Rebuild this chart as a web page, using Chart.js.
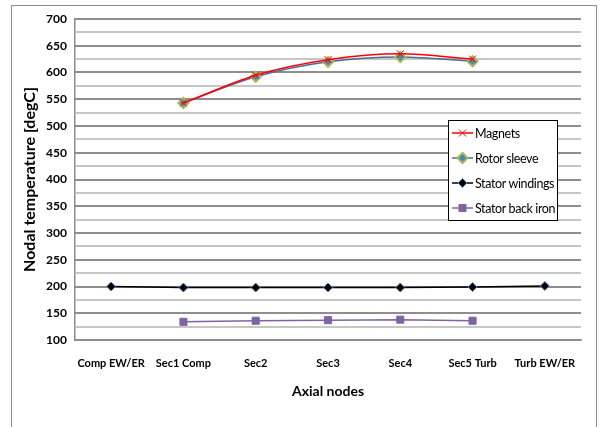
<!DOCTYPE html>
<html>
<head>
<meta charset="utf-8">
<script src="https://cdn.jsdelivr.net/npm/chart.js@4/dist/chart.umd.min.js"></script>
<style>
  html, body { margin: 0; padding: 0; background: #fff; }
  #wrap { position: relative; width: 601px; height: 427px; overflow: hidden; }
  #frame { position: absolute; left: 11px; top: 5px; width: 586px; height: 440px; border: 1px solid #8c8c8c; box-sizing: border-box; }
  #temps { position: absolute; left: 0; top: 0; }
</style>
</head>
<body>
<div id="wrap">
  <div id="frame"></div>
  <canvas id="temps" width="601" height="427"></canvas>
</div>
<script>
"use strict";

const axialNodes = ['Comp EW/ER', 'Sec1 Comp', 'Sec2', 'Sec3', 'Sec4', 'Sec5 Turb', 'Turb EW/ER'];
const magnets = [null, 543, 595, 624, 635, 625, null];
const rotorSleeve = [null, 543, 592, 620, 629, 621, null];
const statorWindings = [200, 198, 198, 198, 198, 199, 201];
const statorBackIron = [null, 134, 136, 137, 138, 136, null];
const yMajorTicks = [100, 150, 200, 250, 300, 350, 400, 450, 500, 550, 600, 650, 700];
const yMinorTicks = [125, 175, 225, 275, 325, 375, 425, 475, 525, 575, 625, 675];

const FONT = 'Lato, "Liberation Sans", Arial, sans-serif';
Chart.defaults.font.family = FONT;
Chart.defaults.color = '#000';

function drawMarker(ctx, ds, x, y) {
    ctx.save();
    ctx.fillStyle = ds.pointBackgroundColor;
    ctx.strokeStyle = ds.pointBorderColor;
    ctx.lineWidth = ds.pointBorderWidth;
    Chart.helpers.drawPoint(ctx, {
        pointStyle: ds.pointStyle,
        radius: ds.pointRadius,
        rotation: 0,
        borderWidth: ds.pointBorderWidth
    }, x, y);
    ctx.restore();
}

// light minor lines + darker major lines, behind the series
const gridLines = {
    id: 'gridLines',
    beforeDatasetsDraw(chart) {
        const { ctx, chartArea: a, scales } = chart;
        const yScale = scales.y;
        ctx.save();
        for (const v of yMinorTicks) {
            const py = Math.round(yScale.getPixelForValue(v));
            ctx.fillStyle = '#c6c6c6';
            ctx.fillRect(a.left, py - 1, a.right - a.left, 2);
        }
        for (const v of yMajorTicks) {
            const py = Math.round(yScale.getPixelForValue(v));
            ctx.fillStyle = '#8e8e8e';
            ctx.fillRect(a.left, py - 1, a.right - a.left, 2);
        }
        ctx.restore();
    }
};

// legend box drawn inside the plot, Excel style
const boxLegend = {
    id: 'boxLegend',
    afterDraw(chart) {
        const ctx = chart.ctx;
        const x0 = 448, y0 = 120, w = 109, h = 100;
        ctx.save();
        ctx.fillStyle = '#fff';
        ctx.fillRect(x0, y0, w, h);
        ctx.strokeStyle = '#000';
        ctx.lineWidth = 1;
        ctx.strokeRect(x0 + 0.5, y0 + 0.5, w, h);
        ctx.font = '12.5px ' + FONT;
        ctx.letterSpacing = '-0.4px';
        ctx.textBaseline = 'middle';
        chart.data.datasets.forEach((ds, i) => {
            const y = y0 + 13 + i * 25;
            ctx.strokeStyle = ds.borderColor;
            ctx.lineWidth = ds.borderWidth;
            ctx.beginPath();
            ctx.moveTo(x0 + 4, y);
            ctx.lineTo(x0 + 25, y);
            ctx.stroke();
            drawMarker(ctx, ds, x0 + 14.5, y);
            ctx.fillStyle = '#000';
            ctx.fillText(ds.label, x0 + 27, y + 0.5);
        });
        ctx.restore();
    }
};

new Chart(document.getElementById('temps'), {
    type: 'line',
    data: {
        labels: axialNodes,
        datasets: [
            {
                label: 'Magnets', data: magnets,
                borderColor: '#ff0000', borderWidth: 1.5,
                pointStyle: 'crossRot', pointRadius: 5,
                pointBackgroundColor: '#ff0000', pointBorderColor: '#ff0000', pointBorderWidth: 1,
                cubicInterpolationMode: 'monotone'
            },
            {
                label: 'Rotor sleeve', data: rotorSleeve,
                borderColor: '#4a6b99', borderWidth: 1.5,
                pointStyle: 'rectRot', pointRadius: 5,
                pointBackgroundColor: '#4f81bd', pointBorderColor: '#9bbb59', pointBorderWidth: 2,
                cubicInterpolationMode: 'monotone'
            },
            {
                label: 'Stator windings', data: statorWindings,
                borderColor: '#000', borderWidth: 1.5,
                pointStyle: 'rectRot', pointRadius: 4.5,
                pointBackgroundColor: '#000', pointBorderColor: '#4f81bd', pointBorderWidth: 1
            },
            {
                label: 'Stator back iron', data: statorBackIron,
                borderColor: '#8064a2', borderWidth: 1.5,
                pointStyle: 'rect', pointRadius: 5,
                pointBackgroundColor: '#8064a2', pointBorderColor: '#8064a2', pointBorderWidth: 1
            }
        ]
    },
    options: {
        responsive: false,
        animation: false,
        spanGaps: false,
        layout: { padding: { left: 0, right: 20, top: 19, bottom: 27 } },
        plugins: { legend: { display: false }, tooltip: { enabled: false } },
        scales: {
            x: {
                offset: true,
                grid: { display: false, drawTicks: false },
                border: { color: '#8c8c8c', width: 1.5 },
                ticks: { padding: 17, maxRotation: 0, autoSkip: false, font: { size: 11, weight: 'bold' } },
                title: { display: true, text: 'Axial nodes', font: { size: 14, weight: 'bold' }, padding: 0 },
                afterFit(scale) { scale.height = 60; }
            },
            y: {
                min: 100, max: 700,
                afterBuildTicks(scale) { scale.ticks = yMajorTicks.map(v => ({ value: v })); },
                grid: { display: false, drawTicks: false },
                border: { color: '#8c8c8c', width: 1.5 },
                ticks: { autoSkip: false, padding: 8, font: { size: 12, weight: 'bold' } },
                title: { display: true, text: 'Nodal temperature [degC]', font: { size: 16, weight: 'bold' }, padding: { top: 20, bottom: 0 } },
                afterFit(scale) { scale.width = 75; }
            }
        }
    },
    plugins: [gridLines, boxLegend]
});
</script>
</body>
</html>
